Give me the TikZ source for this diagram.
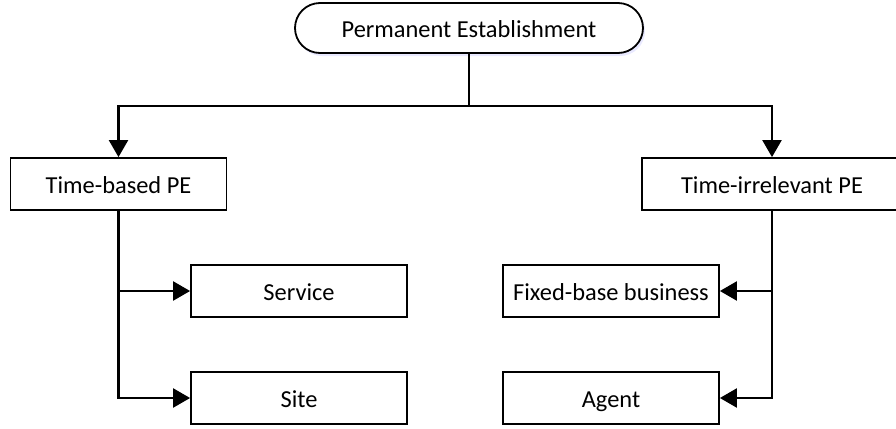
\documentclass[tikz,border=0pt]{standalone}
\usepackage{fontspec}
\setmainfont{Carlito}
\usepackage{tikz}
\usetikzlibrary{arrows.meta,shadows}

\begin{document}
\begin{tikzpicture}[x=0.5pt,y=-0.5pt]

%
% Styles
%
\tikzstyle{box}   = [rectangle,draw=black,line width=0.9pt,font=\fontsize{12.2}{14}\selectfont,
                     text height=10pt,text depth=1pt,
                     minimum width=108pt,minimum height=26pt,inner sep=0pt]
\tikzstyle{root}  = [box,rounded corners=12.5pt,minimum width=174pt,minimum height=25pt,fill=white,
                     drop shadow={shadow xshift=1pt,shadow yshift=-1.5pt,fill=blue!25,opacity=0.35}]
\tikzstyle{edge}  = [-{Triangle[width=9.5pt,length=8.5pt]},line width=1.1pt]

\clip (0,0) rectangle (896,429);

\node[root] (pe)      at (469, 28)    {Permanent Establishment};
\node[box]  (timebased) at (118.5,184) {Time-based PE};
\node[box,minimum width=130pt] (timeirr) at (772,184) {Time-irrelevant PE};
\node[box]  (service) at (299,291)    {Service};
\node[box]  (site)    at (299,398)    {Site};
\node[box]  (fixed)   at (611,291)    {Fixed-base business};
\node[box]  (agent)   at (611,398)    {Agent};

\coordinate (split) at (469,106);

\draw[line width=1.1pt] (pe) -- (split);
\draw[edge] (split) -| (timebased);
\draw[edge] (split) -| (timeirr);

\draw[edge] (timebased) |- (service);
\draw[edge] (timebased) |- (site);
\draw[edge] (timeirr) |- (fixed);
\draw[edge] (timeirr) |- (agent);

\end{tikzpicture}
\end{document}
